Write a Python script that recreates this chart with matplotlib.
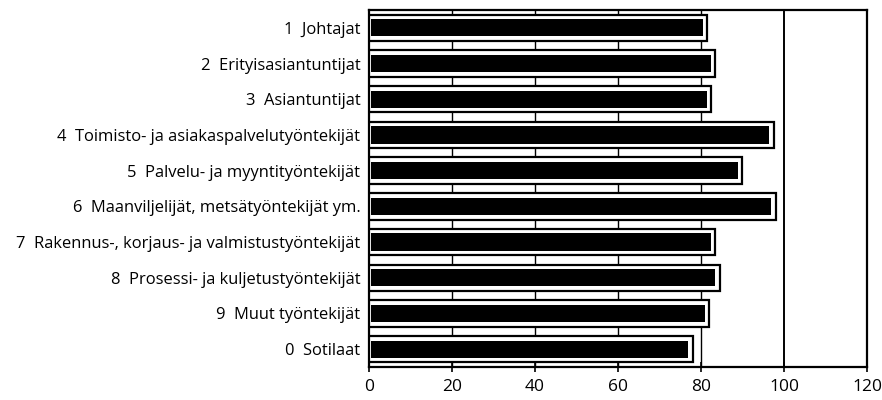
import numpy as np
import matplotlib
matplotlib.use("Agg")
import matplotlib.pyplot as plt

plt.rcParams["font.family"] = ["Open Sans", "DejaVu Sans"]

categories = [
    "1  Johtajat",
    "2  Erityisasiantuntijat",
    "3  Asiantuntijat",
    "4  Toimisto- ja asiakaspalvelutyöntekijät",
    "5  Palvelu- ja myyntityöntekijät",
    "6  Maanviljelijät, metsätyöntekijät ym.",
    "7  Rakennus-, korjaus- ja valmistustyöntekijät",
    "8  Prosessi- ja kuljetustyöntekijät",
    "9  Muut työntekijät",
    "0  Sotilaat",
]
values = [81.5, 83.5, 82.5, 97.5, 90, 98, 83.5, 84.5, 82, 78]
xticks = [0, 20, 40, 60, 80, 100, 120]

fig = plt.figure(figsize=(8.82, 4.0), dpi=100)
ax = fig.add_axes([0.418, 0.0825, 0.565, 0.8925])

y = np.arange(len(categories))
# outer box: white fill with black outline
ax.barh(y, values, height=0.74, left=0, color="white", edgecolor="black",
        linewidth=1.6, zorder=3)
# inner dark bar
inner = [v - 1.6 for v in values]
ax.barh(y, inner, height=0.48, left=0.6, color="black", edgecolor="none", zorder=4)

for xv in [20, 40, 60, 80]:
    ax.axvline(xv, color="black", lw=1.0, zorder=1)
ax.axvline(100, color="black", lw=1.4, zorder=1)

ax.set_xlim(0, 120)
ax.set_ylim(len(categories) - 0.5, -0.5)
ax.set_yticks(y)
ax.set_yticklabels(categories, fontsize=11.9)
ax.set_xticks(xticks)
ax.set_xticklabels([str(t) for t in xticks], fontsize=12.5)
ax.tick_params(axis="y", length=0, pad=6)
ax.tick_params(axis="x", direction="inout", length=7, width=1.2, pad=5)
for s in ax.spines.values():
    s.set_linewidth(1.6)

fig.savefig("out.png", dpi=100, facecolor="white")
